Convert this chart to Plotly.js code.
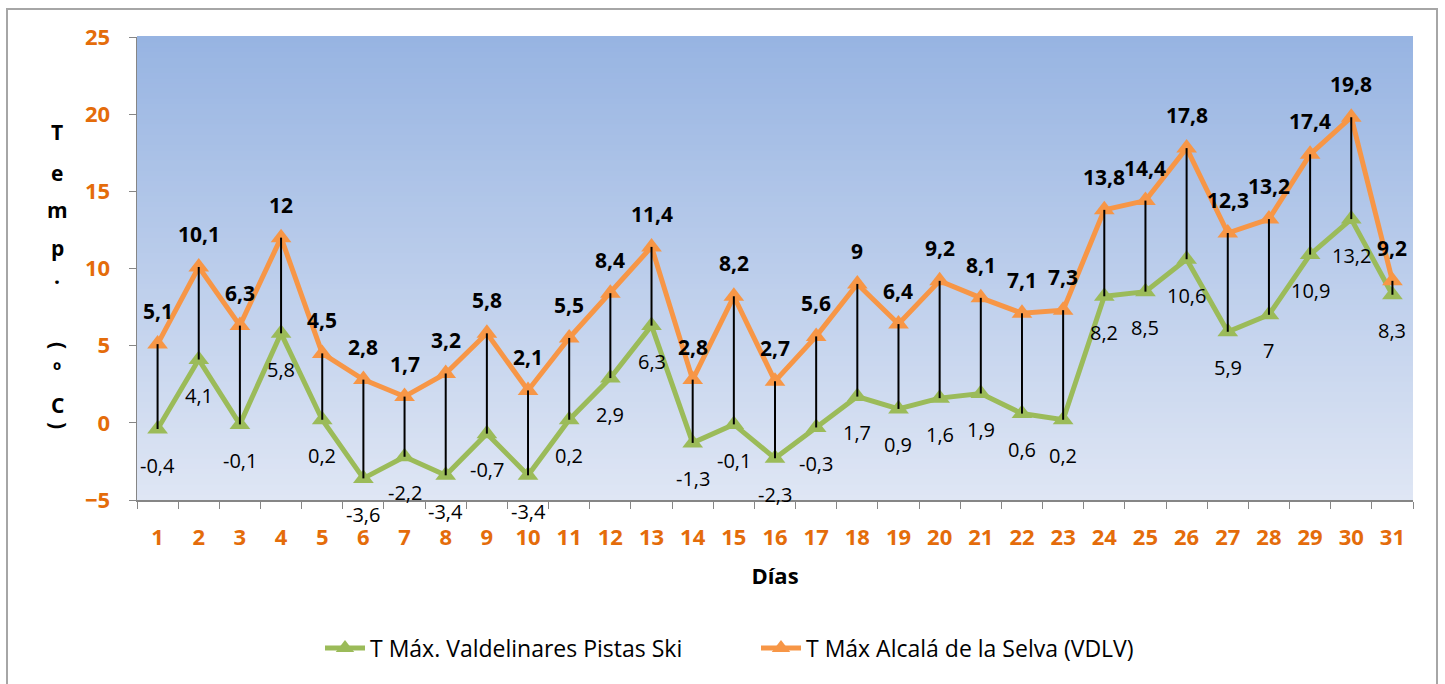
<!DOCTYPE html>
<html><head><meta charset="utf-8">
<script src="https://cdn.plot.ly/plotly-3.0.1.min.js"></script>
<style>
html,body{margin:0;padding:0;background:#fff;overflow:hidden;}
#frame{position:absolute;left:6px;top:8px;width:1432px;height:720px;border:2px solid #a6a6a6;box-sizing:border-box;}
#chart{position:absolute;left:0;top:0;width:1445px;height:684px;}
</style></head>
<body>
<div id="frame"></div>
<div id="chart"></div>
<script>
const dias = ["1","2","3","4","5","6","7","8","9","10","11","12","13","14","15","16","17","18","19","20","21","22","23","24","25","26","27","28","29","30","31"];
const valdelinares = [-0.4,4.1,-0.1,5.8,0.2,-3.6,-2.2,-3.4,-0.7,-3.4,0.2,2.9,6.3,-1.3,-0.1,-2.3,-0.3,1.7,0.9,1.6,1.9,0.6,0.2,8.2,8.5,10.6,5.9,7,10.9,13.2,8.3];
const alcala = [5.1,10.1,6.3,12,4.5,2.8,1.7,3.2,5.8,2.1,5.5,8.4,11.4,2.8,8.2,2.7,5.6,9,6.4,9.2,8.1,7.1,7.3,13.8,14.4,17.8,12.3,13.2,17.4,19.8,9.2];
const nameV = "T Máx. Valdelinares Pistas Ski";
const nameA = "T Máx Alcalá de la Selva (VDLV)";

const FONT = "'Open Sans', sans-serif";
const fmt = v => String(v).replace('.', ',');

// hi-lo lines
const hlX = [], hlY = [];
dias.forEach((d, i) => { hlX.push(d, d, null); hlY.push(valdelinares[i], alcala[i], null); });

const traces = [
  {x: dias, y: valdelinares, name: nameV, type: 'scatter', mode: 'lines+markers', legend: 'legend',
   line: {color: '#9bbb59', width: 5}, marker: {symbol: 'triangle-up', size: 18, color: '#9bbb59'}},
  {x: dias, y: alcala, name: nameA, type: 'scatter', mode: 'lines+markers', legend: 'legend2',
   line: {color: '#f79646', width: 5}, marker: {symbol: 'triangle-up', size: 18, color: '#f79646'}},
  {x: hlX, y: hlY, type: 'scatter', mode: 'lines', showlegend: false, hoverinfo: 'skip',
   line: {color: '#000', width: 2}}
];

const annotations = [];
dias.forEach((d, i) => {
  annotations.push({x: i, y: alcala[i], xref: 'x', yref: 'y', text: '<b>' + fmt(alcala[i]) + '</b>',
    showarrow: false, yshift: 33, font: {family: FONT, size: 21, color: '#000'}});
  annotations.push({x: i, y: valdelinares[i], xref: 'x', yref: 'y', text: fmt(valdelinares[i]),
    showarrow: false, yshift: -36, font: {family: FONT, size: 20, color: '#000'}});
});

// stacked y-axis title
const PT = 37, PB = 500, PH = PB - PT, PL = 137, PW = 1413 - 137;
const px = v => (v - PL) / PW, py = v => (PB - v) / PH;
const titleChars = [["T",57,132,0],["e",57,173,0],["m",57,210,0],["p",57,248,0],[".",57,276,0],["(",59,345,90],["º",57,370,0],["C",57,405,0],[")",59,425,90]];
titleChars.forEach(([c, x, y, ang]) => {
  annotations.push({xref: 'paper', yref: 'paper', x: px(x), y: py(y),
    xanchor: 'center', yanchor: 'middle', text: '<b>' + c + '</b>', textangle: ang,
    showarrow: false, font: {family: FONT, size: 21, color: '#000'}});
});

// gradient background bands
const shapes = [];
const N = 90, gTop = [151, 180, 226], gBot = [223, 230, 244];
for (let i = 0; i < N; i++) {
  const t = (i + 0.5) / N;
  const c = gBot.map((b, k) => Math.round(b + (gTop[k] - b) * t));
  shapes.push({type: 'rect', xref: 'paper', yref: 'paper', x0: 0, x1: 1, y0: i / N, y1: (i + 1) / N + 0.002,
    layer: 'below', line: {width: 0}, fillcolor: `rgb(${c[0]},${c[1]},${c[2]})`});
}

const legendCommon = {orientation: 'h', xanchor: 'left', y: py(648), yanchor: 'middle',
  font: {family: FONT, size: 23, color: '#000'}, itemwidth: 40, bgcolor: 'rgba(0,0,0,0)'};

const layout = {
  width: 1445, height: 684,
  margin: {l: PL, r: 1445 - 1413, t: PT, b: 684 - PB},
  paper_bgcolor: 'rgba(0,0,0,0)', plot_bgcolor: 'rgba(0,0,0,0)',
  showlegend: true,
  legend: Object.assign({}, legendCommon, {x: px(320)}),
  legend2: Object.assign({}, legendCommon, {x: px(756)}),
  xaxis: {type: 'category', range: [-0.5, 30.5], tickson: 'boundaries', ticks: 'outside', ticklen: 7,
    tickcolor: '#868686', showline: true, linecolor: '#868686', linewidth: 1.5, showgrid: false, zeroline: false,
    ticklabelstandoff: 17,
    tickfont: {family: FONT, size: 22, color: '#e46c0a', weight: 'bold'},
    title: {text: '<b>Días</b>', standoff: 18, font: {family: FONT, size: 22, color: '#000'}}},
  yaxis: {range: [-5, 25], dtick: 5, ticks: 'outside', ticklen: 7, tickcolor: '#868686', showline: true,
    linecolor: '#868686', linewidth: 1.5, showgrid: false, zeroline: false, ticklabelstandoff: 14,
    tickfont: {family: FONT, size: 22, color: '#e46c0a', weight: 'bold'}},
  shapes: shapes,
  annotations: annotations
};

Plotly.newPlot('chart', traces, layout, {displayModeBar: false, staticPlot: true});
</script>
</body></html>
